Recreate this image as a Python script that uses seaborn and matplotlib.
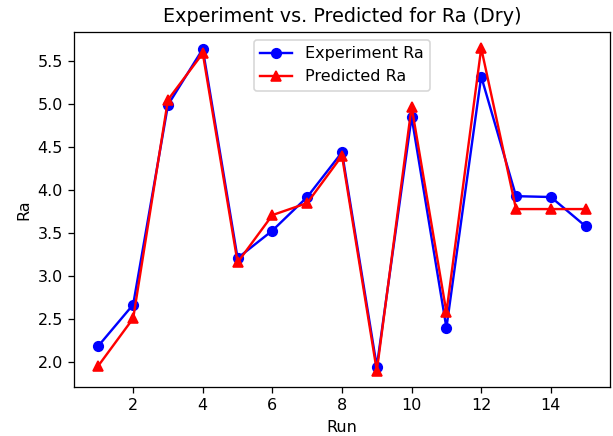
import numpy as np
import pandas as pd
import seaborn as sns
import matplotlib
matplotlib.use("Agg")
import matplotlib.pyplot as plt

runs = list(range(1, 16))
experiment_ra = [2.19, 2.67, 4.99, 5.64, 3.21, 3.53, 3.92, 4.44, 1.95, 4.85, 2.40, 5.32, 3.93, 3.92, 3.58]
predicted_ra = [1.96, 2.51, 5.05, 5.59, 3.16, 3.71, 3.85, 4.40, 1.90, 4.97, 2.58, 5.65, 3.78, 3.78, 3.78]

df = pd.DataFrame({"Run": runs, "Experiment Ra": experiment_ra, "Predicted Ra": predicted_ra})

dpi = 115
fig = plt.figure(figsize=(613 / dpi, 436 / dpi), dpi=dpi)
ax = fig.add_axes([74 / 613, 1 - 387 / 436, 536 / 613, 355 / 436])

sns.lineplot(data=df, x="Run", y="Experiment Ra", ax=ax, color="blue", marker="o",
             markersize=6, markeredgecolor="blue", markeredgewidth=1, label="Experiment Ra")
sns.lineplot(data=df, x="Run", y="Predicted Ra", ax=ax, color="red", marker="^",
             markersize=6, markeredgecolor="red", markeredgewidth=1, label="Predicted Ra")

ax.set_title("Experiment vs. Predicted for Ra (Dry)", fontsize=12)
ax.set_xlabel("Run")
ax.set_ylabel("Ra")
ax.legend(loc="upper center")

fig.savefig("out.png", dpi=dpi)
